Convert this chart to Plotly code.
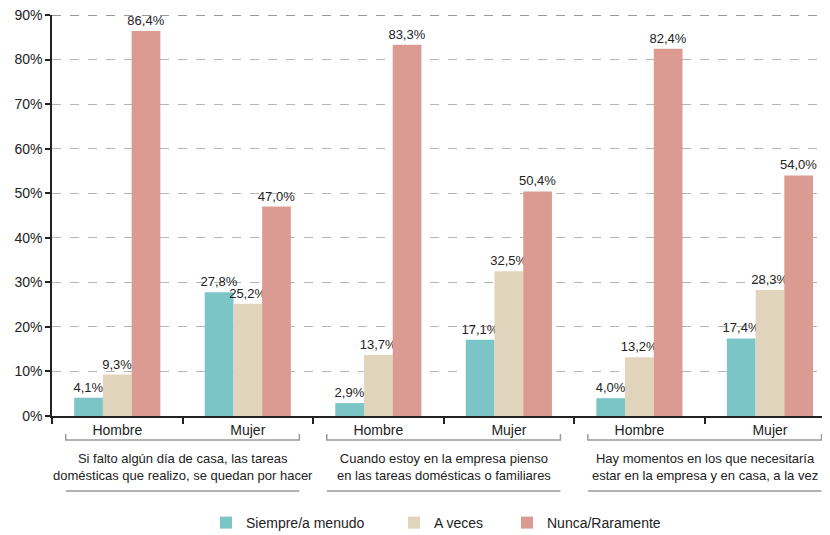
import plotly.graph_objects as go

# datos: % por sexo y afirmación
sexo = ["Hombre", "Mujer", "Hombre", "Mujer", "Hombre", "Mujer"]
siempre = [4.1, 27.8, 2.9, 17.1, 4.0, 17.4]
a_veces = [9.3, 25.2, 13.7, 32.5, 13.2, 28.3]
nunca = [86.4, 47.0, 83.3, 50.4, 82.4, 54.0]
grupos = [
    "Si falto algún día de casa, las tareas<br>domésticas que realizo, se quedan por hacer",
    "Cuando estoy en la empresa pienso<br>en las tareas domésticas o familiares",
    "Hay momentos en los que necesitaría<br>estar en la empresa y en casa, a la vez",
]
y_ticks = [0, 10, 20, 30, 40, 50, 60, 70, 80, 90]
y_labels = [f"{v}%" for v in y_ticks]

colores = ["#7BC5C6", "#E1D4BC", "#DB9B92"]
nombres = ["Siempre/a menudo", "A veces", "Nunca/Raramente"]
font = "Liberation Sans, Arial, sans-serif"

x = list(range(len(sexo)))

# la página tiene 8px de margen: el área del gráfico va de x 52..830, y 15..416
def py(y):
    return (416 - y) / 401

def px_(x):
    return (x - 52) / 778

legend_x = [222, 410, 523]  # posición del cuadrado en la leyenda

fig = go.Figure()
for i, (nombre, vals, col) in enumerate(zip(nombres, [siempre, a_veces, nunca], colores)):
    fig.add_trace(go.Bar(
        x=x, y=vals, name=nombre, marker_color=col, marker_line_width=0,
        texttemplate="%{y:.1f}%", textposition="outside", cliponaxis=False,
        constraintext="none", showlegend=True,
        textfont=dict(size=13, color="#222222", family=font),
        legend="legend" if i == 0 else f"legend{i + 1}",
    ))

shapes = []
# línea superior punteada (90%)
shapes.append(dict(type="line", xref="paper", yref="y", x0=0, x1=1, y0=90, y1=90,
                   line=dict(color="#333333", width=1, dash="dash")))
annotations = []
for i, g in enumerate(grupos):
    c = 2 * i + 0.5
    a, b = c - 0.895, c + 0.895
    # corchete bajo Hombre / Mujer
    shapes.append(dict(type="path", xref="x", yref="paper",
                       path=f"M {a},{py(434)} L {a},{py(440)} L {b},{py(440)} L {b},{py(434)}",
                       line=dict(color="#9a9a9a", width=1.5)))
    shapes.append(dict(type="line", xref="x", yref="paper", x0=a, x1=b, y0=py(491), y1=py(491),
                       line=dict(color="#9a9a9a", width=1.5)))
    annotations.append(dict(x=c, y=py(467), xref="x", yref="paper", text=g, showarrow=False,
                            font=dict(size=13, color="#222222", family=font), yanchor="middle"))

leg = {}
for i, lx in enumerate(legend_x):
    key = "legend" if i == 0 else f"legend{i + 1}"
    leg[key] = dict(orientation="h", x=px_(lx - 16), y=1 - (523 - 8) / 527,
                    yref="container", xanchor="left", yanchor="middle",
                    font=dict(size=14, color="#222222", family=font), itemwidth=30,
                    bgcolor="rgba(0,0,0,0)", visible=True)

fig.update_layout(
    width=822, height=527,
    margin=dict(l=44, r=0, t=7, b=119),
    plot_bgcolor="white", paper_bgcolor="white",
    barmode="group", bargap=0.34, bargroupgap=0,
    separators=",.", showlegend=True,
    font=dict(family=font, size=13, color="#222222"),
    shapes=shapes, annotations=annotations,
    **leg,
)

fig.update_xaxes(
    range=[-0.5, 5.46], tickvals=x, ticktext=sexo, ticks="",
    showline=True, linecolor="#222222", linewidth=1.5, showgrid=False,
    tickfont=dict(size=14, color="#222222"), automargin=False, ticklabelstandoff=0,
    minor=dict(tickvals=[-0.5, 0.5, 1.5, 2.5, 3.5, 4.5, 5.5], ticks="outside", ticklen=6,
               tickcolor="#222222", tickwidth=1.5, showgrid=False),
)
fig.update_yaxes(
    range=[0, 90], tickvals=y_ticks, ticktext=y_labels, ticks="outside", ticklen=5,
    tickcolor="#222222", tickwidth=1.5,
    showline=True, linecolor="#222222", linewidth=1.5,
    showgrid=True, gridcolor="#b5b5b5", griddash="dash", gridwidth=1,
    tickfont=dict(size=14, color="#222222"), zeroline=False, automargin=False,
    ticklabeloverflow="allow",
)

fig.write_html("out.html")
